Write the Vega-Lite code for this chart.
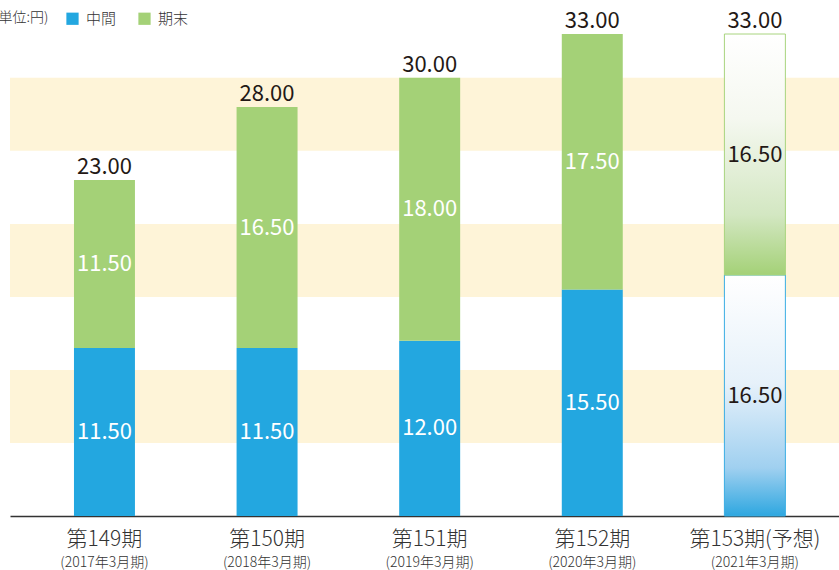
{
  "$schema": "https://vega.github.io/schema/vega-lite/v6.json",
  "width": 829,
  "height": 482,
  "autosize": {"type": "none"},
  "padding": {"left": 10, "top": 34, "right": 0, "bottom": 54},
  "config": {"view": {"stroke": null}, "font": "Noto Sans CJK JP"},
  "datasets": {
    "bars": [
      {"period": "第149期", "type": "中間", "value": 11.5},
      {"period": "第149期", "type": "期末", "value": 11.5},
      {"period": "第150期", "type": "中間", "value": 11.5},
      {"period": "第150期", "type": "期末", "value": 16.5},
      {"period": "第151期", "type": "中間", "value": 12.0},
      {"period": "第151期", "type": "期末", "value": 18.0},
      {"period": "第152期", "type": "中間", "value": 15.5},
      {"period": "第152期", "type": "期末", "value": 17.5},
      {"period": "第153期(予想)", "type": "中間", "value": 16.5},
      {"period": "第153期(予想)", "type": "期末", "value": 16.5}
    ],
    "bands": [
      {"lo": 5, "hi": 10},
      {"lo": 15, "hi": 20},
      {"lo": 25, "hi": 30}
    ]
  },
  "layer": [
    {
      "data": {"name": "bands"},
      "mark": {"type": "rect", "color": "#fef4d8"},
      "encoding": {
        "y": {"field": "lo", "type": "quantitative", "scale": {"domain": [0, 33], "nice": false}, "axis": null},
        "y2": {"field": "hi"}
      }
    },
    {
      "data": {"name": "bars"},
      "transform": [
        {"stack": "value", "groupby": ["period"], "sort": [{"field": "type", "order": "ascending"}], "as": ["v0", "v1"]},
        {"filter": "datum.period != '第153期(予想)'"}
      ],
      "mark": {"type": "bar"},
      "encoding": {
        "x": {
          "field": "period", "type": "nominal", "sort": null,
          "scale": {"paddingInner": 0.625, "paddingOuter": 0.3616, "align": 0.544},
          "axis": {"orient": "bottom", "title": null, "labelAngle": 0, "labelFontSize": 21, "labelFontWeight": 300, "labelColor": "#333333", "labelPadding": 12, "ticks": false, "domainColor": "#333333", "domainWidth": 1.5}
        },
        "y": {"field": "v1", "type": "quantitative", "scale": {"domain": [0, 33], "nice": false}, "axis": null},
        "y2": {"field": "v0"},
        "color": {
          "field": "type", "type": "nominal",
          "scale": {"domain": ["中間", "期末"], "range": ["#23a7e0", "#a4d177"]},
          "legend": {
            "title": "(単位:円)", "orient": "none", "direction": "horizontal", "titleOrient": "left",
            "legendX": -16, "legendY": -23, "titleFontSize": 14, "titleFontWeight": 300, "titleColor": "#333333",
            "titlePadding": 16, "labelFontSize": 15, "labelFontWeight": 300, "labelColor": "#333333", "symbolType": "square", "symbolSize": 150,
            "symbolStrokeWidth": 0, "columnPadding": 20, "labelOffset": 6, "titleBaseline": "top", "titleAnchor": "start"
          }
        }
      }
    },
    {
      "data": {"name": "bars"},
      "transform": [
        {"stack": "value", "groupby": ["period"], "sort": [{"field": "type", "order": "ascending"}], "as": ["v0", "v1"]},
        {"filter": "datum.period == '第153期(予想)' && datum.type == '中間'"}
      ],
      "mark": {
        "type": "bar", "stroke": "#3aade3", "strokeWidth": 1,
        "fill": {"gradient": "linear", "x1": 0, "y1": 0, "x2": 0, "y2": 1,
          "stops": [{"offset": 0, "color": "#ffffff"}, {"offset": 0.45, "color": "#e6f1fa"}, {"offset": 0.8, "color": "#a0d0f0"}, {"offset": 1, "color": "#2ea7e0"}]}
      },
      "encoding": {
        "x": {"field": "period", "type": "nominal", "sort": null, "axis": null},
        "y": {"field": "v1", "type": "quantitative", "scale": {"domain": [0, 33], "nice": false}, "axis": null},
        "y2": {"field": "v0"}
      }
    },
    {
      "data": {"name": "bars"},
      "transform": [
        {"stack": "value", "groupby": ["period"], "sort": [{"field": "type", "order": "ascending"}], "as": ["v0", "v1"]},
        {"filter": "datum.period == '第153期(予想)' && datum.type == '期末'"}
      ],
      "mark": {
        "type": "bar", "stroke": "#a8d47e", "strokeWidth": 1,
        "fill": {"gradient": "linear", "x1": 0, "y1": 0, "x2": 0, "y2": 1,
          "stops": [{"offset": 0, "color": "#ffffff"}, {"offset": 0.35, "color": "#f5f8f0"}, {"offset": 0.75, "color": "#d3e7c2"}, {"offset": 1, "color": "#a4d177"}]}
      },
      "encoding": {
        "x": {"field": "period", "type": "nominal", "sort": null, "axis": null},
        "y": {"field": "v1", "type": "quantitative", "scale": {"domain": [0, 33], "nice": false}, "axis": null},
        "y2": {"field": "v0"}
      }
    },
    {
      "data": {"name": "bars"},
      "transform": [
        {"stack": "value", "groupby": ["period"], "sort": [{"field": "type", "order": "ascending"}], "as": ["v0", "v1"]},
        {"calculate": "(datum.v0 + datum.v1) / 2", "as": "mid"}
      ],
      "mark": {"type": "text", "fontSize": 22, "baseline": "middle"},
      "encoding": {
        "x": {"field": "period", "type": "nominal", "sort": null, "axis": null},
        "y": {"field": "mid", "type": "quantitative", "scale": {"domain": [0, 33], "nice": false}, "axis": null},
        "text": {"field": "value", "type": "quantitative", "format": ".2f"},
        "color": {"condition": {"test": "datum.period == '第153期(予想)'", "value": "#231815"}, "value": "#ffffff"}
      }
    },
    {
      "data": {"name": "bars"},
      "transform": [
        {"aggregate": [{"op": "sum", "field": "value", "as": "total"}], "groupby": ["period"]}
      ],
      "mark": {"type": "text", "fontSize": 22, "baseline": "alphabetic", "dy": -6, "color": "#231815"},
      "encoding": {
        "x": {
          "field": "period", "type": "nominal", "sort": null,
          "axis": {"orient": "bottom", "title": null, "labelAngle": 0, "domain": false, "ticks": false, "labelPadding": 39, "labelFontSize": 14, "labelFontWeight": 300, "labelColor": "#333333",
            "labelExpr": "datum.value == '第149期' ? '(2017年3月期)' : datum.value == '第150期' ? '(2018年3月期)' : datum.value == '第151期' ? '(2019年3月期)' : datum.value == '第152期' ? '(2020年3月期)' : '(2021年3月期)'"}
        },
        "y": {"field": "total", "type": "quantitative", "scale": {"domain": [0, 33], "nice": false}, "axis": null},
        "text": {"field": "total", "type": "quantitative", "format": ".2f"}
      }
    }
  ],
  "resolve": {"axis": {"x": "independent"}}
}
